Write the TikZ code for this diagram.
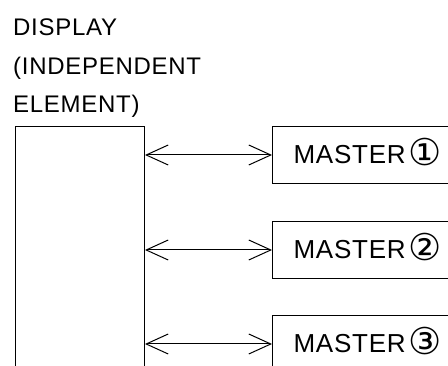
\documentclass[tikz,border=0pt]{standalone}
\usepackage{fontspec}
\setmainfont{Liberation Sans}[LetterSpace=3]
\newfontfamily\circfont{DejaVu Sans}
\usepackage{tikz}
\usetikzlibrary{
    arrows.meta,
    positioning
}
\newcommand{\circnum}[1]{\hspace{3pt}{\circfont\fontsize{37}{37}\selectfont\raisebox{-2pt}[0pt][0pt]{#1}}}

\begin{document}
\begin{tikzpicture}[
    x=1pt, y=-1pt,
    displayBox/.style={
        rectangle, draw=black, line width=1pt,
        minimum width=129pt, minimum height=262pt,
        inner sep=0pt
    },
    masterBox/.style={
        rectangle, draw=black, line width=1pt,
        text width=180pt, inner xsep=21pt, inner ysep=0pt,
        minimum height=57pt, align=left,
        font=\fontsize{26}{30}\selectfont
    },
    labelText/.style={
        align=left, inner sep=0pt,
        font=\fontsize{24}{38.5}\selectfont
    },
    busLink/.style={
        {Straight Barb[length=22pt, width=20pt]}-{Straight Barb[length=22pt, width=20pt]},
        line width=1pt, draw=black
    }
]

    % Frame
    \useasboundingbox (0,0) rectangle (448,366);
    \clip (0,0) rectangle (448,366);

    % Display
    \node[labelText, anchor=north west] (lDisp) at (13,19) {DISPLAY\\(INDEPENDENT\\ELEMENT)};
    \node[displayBox, anchor=north west] (disp) at (15,126) {};

    % Masters
    \node[masterBox, anchor=north west] (mOne) at (272,126) {MASTER\circnum{①}};
    \node[masterBox, anchor=north west] (mTwo) at (272,221) {MASTER\circnum{②}};
    \node[masterBox, anchor=north west] (mThree) at (272,315) {MASTER\circnum{③}};

    % Links
    \draw[busLink] (mOne.west -| disp.east) -- (mOne.west);
    \draw[busLink] (mTwo.west -| disp.east) -- (mTwo.west);
    \draw[busLink] (mThree.west -| disp.east) -- (mThree.west);

\end{tikzpicture}
\end{document}
